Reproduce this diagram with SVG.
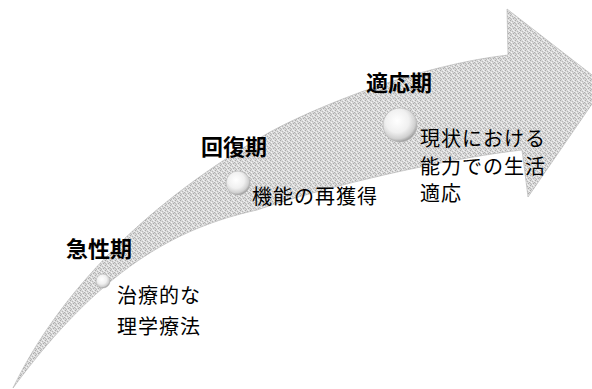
<svg xmlns="http://www.w3.org/2000/svg" width="592" height="389" viewBox="0 0 592 389">
  <defs>
    <pattern id="dither" width="5" height="5" patternUnits="userSpaceOnUse">
      <rect width="5" height="5" fill="#d9d9d9"/>
      <rect x="0" y="0" width="1" height="1" fill="#aaaaaa"/>
      <rect x="3" y="0" width="1" height="1" fill="#f2f2f2"/>
      <rect x="2" y="1" width="1" height="1" fill="#b6b6b6"/>
      <rect x="4" y="1" width="1" height="1" fill="#eeeeee"/>
      <rect x="1" y="2" width="1" height="1" fill="#f4f4f4"/>
      <rect x="4" y="2" width="1" height="1" fill="#b0b0b0"/>
      <rect x="0" y="3" width="1" height="1" fill="#bcbcbc"/>
      <rect x="3" y="3" width="1" height="1" fill="#ababab"/>
      <rect x="2" y="4" width="1" height="1" fill="#efefef"/>
      <rect x="1" y="4" width="1" height="1" fill="#b8b8b8"/>
    </pattern>
    <radialGradient id="sphere" cx="0.42" cy="0.38" r="0.62">
      <stop offset="0" stop-color="#ffffff"/>
      <stop offset="0.55" stop-color="#f0f0f0"/>
      <stop offset="0.85" stop-color="#d0d0d0"/>
      <stop offset="1" stop-color="#a0a0a0"/>
    </radialGradient>
  </defs>
  <style>
    .title { font-family: "Noto Sans CJK JP", "Noto Sans", sans-serif; font-weight: bold; font-size: 22px; fill: #000; }
    .desc { font-family: "Noto Sans CJK JP", "Noto Sans", sans-serif; font-size: 20px; letter-spacing: 1px; fill: #000; }
    .ball { fill: url(#sphere); stroke: #b4b4b4; stroke-width: 0.6; }
  </style>
  <rect width="592" height="389" fill="#ffffff"/>

  <g id="arrow">
    <path d="M13,388 C60,290 150,200 270,132 C320,105 420,65 508,55 L507,9 L605,85 L528,197 L522,150 C450,158 330,185 257,210 C175,228 100,270 13,388 Z" fill="url(#dither)" stroke="#b0b0b0" stroke-width="0.6"/>
  </g>

  <g id="connectors"></g>

  <g id="stage-acute">
    <circle class="ball" cx="103" cy="281" r="7"/>
    <text class="title" x="66" y="257">急性期</text>
    <text class="desc" x="117" y="303">治療的な</text>
    <text class="desc" x="117" y="334">理学療法</text>
  </g>

  <g id="stage-recovery">
    <circle class="ball" cx="238" cy="183" r="12"/>
    <text class="title" x="201" y="155">回復期</text>
    <text class="desc" x="252" y="204">機能の再獲得</text>
  </g>

  <g id="stage-adaptation">
    <circle class="ball" cx="400" cy="125" r="17"/>
    <text class="title" x="366" y="91">適応期</text>
    <text class="desc" x="420" y="146">現状における</text>
    <text class="desc" x="420" y="174">能力での生活</text>
    <text class="desc" x="420" y="201">適応</text>
  </g>
</svg>
